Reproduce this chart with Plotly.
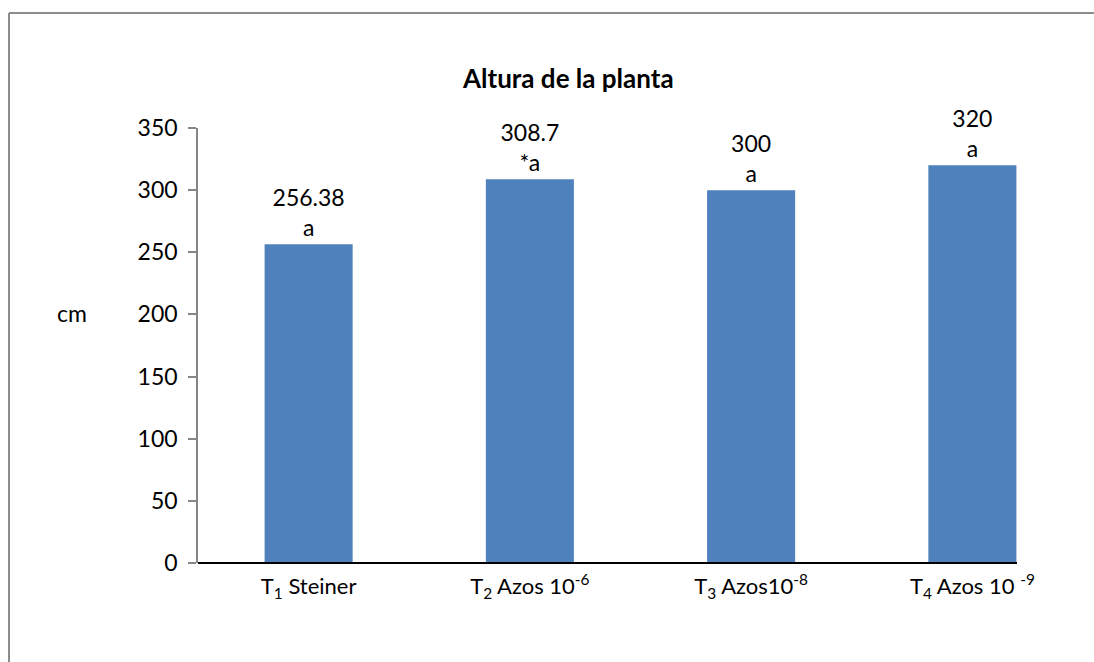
import plotly.graph_objects as go

categories = ["T<sub>1</sub> Steiner", "T<sub>2</sub> Azos 10<sup>-6</sup>",
              "T<sub>3</sub> Azos10<sup>-8</sup>", "T<sub>4</sub> Azos 10 <sup>-9</sup>"]
values = [256.38, 308.7, 300, 320]
value_labels = ["256.38", "308.7", "300", "320"]
letters = ["a", "*a", "a", "a"]
y_ticks = [0, 50, 100, 150, 200, 250, 300, 350]

FONT = "Lato"
W, H = 1094, 662
L, R, T, B = 198, 1094 - 1083, 128, 99
pw, ph = W - L - R, H - T - B

def px(x):
    return (x - L) / pw

def py(y):
    return (H - B - y) / ph

fig = go.Figure()
fig.add_trace(go.Bar(
    x=categories, y=values,
    marker=dict(color="#4F81BD", line=dict(width=0)),
    text=[f"{v}<br>{l}" for v, l in zip(value_labels, letters)],
    textposition="outside",
    textfont=dict(family=FONT, size=23, color="#000000"),
    cliponaxis=False,
    width=0.398,
))

fig.update_layout(
    width=W, height=H,
    margin=dict(l=L, r=R, t=T, b=B),
    paper_bgcolor="white", plot_bgcolor="white",
    showlegend=False,
    font=dict(family=FONT, size=23, color="#000000"),
    xaxis=dict(
        showline=False, ticks="", showgrid=False, zeroline=False,
        tickfont=dict(family=FONT, size=22),
        ticklabelstandoff=8,
    ),
    yaxis=dict(
        range=[0, 350], tickvals=y_ticks,
        showline=True, linecolor="#868686", linewidth=1.5,
        ticks="outside", ticklen=8, tickcolor="#868686", tickwidth=1.5,
        showgrid=False, zeroline=False,
        tickfont=dict(family=FONT, size=23),
        ticklabelstandoff=6,
    ),
    annotations=[
        dict(text="<b>Altura de la planta</b>", xref="paper", yref="paper",
             x=px(568), y=py(78), showarrow=False,
             font=dict(family=FONT, size=26), xanchor="center", yanchor="middle"),
        dict(text="cm", xref="paper", yref="paper",
             x=px(72), y=py(313), showarrow=False,
             font=dict(family=FONT, size=23), xanchor="center", yanchor="middle"),
    ],
    shapes=[
        dict(type="line", xref="paper", yref="paper",
             x0=px(9), x1=px(9), y0=py(13), y1=py(680),
             line=dict(color="#8C8C8C", width=2)),
        dict(type="line", xref="paper", yref="paper",
             x0=px(9), x1=px(1110), y0=py(13), y1=py(13),
             line=dict(color="#8C8C8C", width=2)),
        dict(type="line", xref="paper", yref="paper",
             x0=px(198), x1=px(1017), y0=0, y1=0,
             line=dict(color="#000000", width=2)),
    ],
)

fig.write_html("out.html")
